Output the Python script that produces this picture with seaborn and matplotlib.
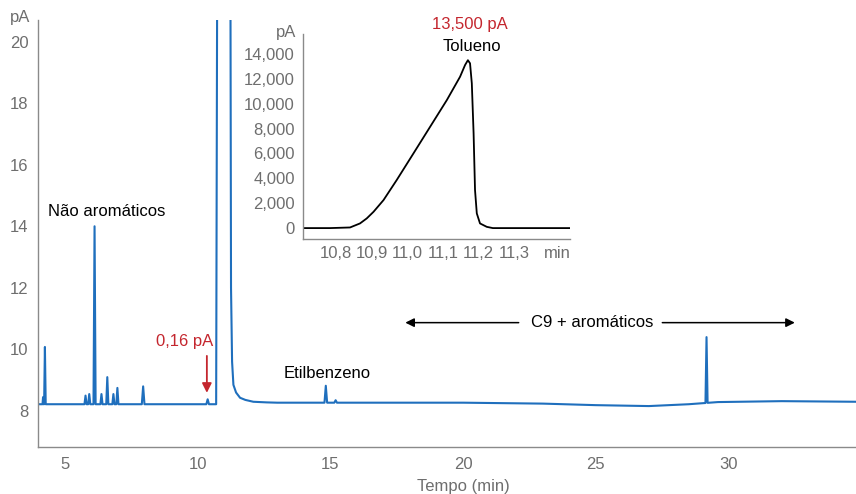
import numpy as np
import pandas as pd
import matplotlib
matplotlib.use("Agg")
import matplotlib.pyplot as plt
import seaborn as sns
from matplotlib.ticker import MultipleLocator, FuncFormatter, FixedLocator

# linija be piko (bazinė linija), min / pA
base_t = [4.0, 10.7, 11.3, 13.0, 16.0, 20.0, 23.0, 25.0, 27.0, 28.5, 29.6, 32.0, 34.8]
base_y = [8.22, 8.22, 8.27, 8.27, 8.27, 8.27, 8.24, 8.19, 8.16, 8.22, 8.29, 8.32, 8.30]

# maži pikai: laikas, viršūnė (pA), pusplotis (min)
peak_t = [4.18, 4.25, 5.78, 5.92, 6.12, 6.38, 6.60, 6.83, 6.98, 7.95, 10.38, 14.83, 15.20, 29.17]
peak_y = [8.45, 10.08, 8.50, 8.55, 14.0, 8.55, 9.10, 8.55, 8.75, 8.80, 8.38, 8.82, 8.35, 10.40]
peak_w = [0.02, 0.03, 0.04, 0.04, 0.04, 0.04, 0.04, 0.04, 0.04, 0.05, 0.05, 0.05, 0.05, 0.04]

# tolueno pikas (intarpas), min / pA
tol_t = [10.70, 10.783, 10.839, 10.867, 10.886, 10.905, 10.933, 10.970, 11.017, 11.064,
         11.111, 11.148, 11.162, 11.170, 11.176, 11.181, 11.186, 11.190, 11.195, 11.204,
         11.223, 11.24, 11.46]
tol_y = [0, 0, 50, 375, 780, 1310, 2250, 3860, 6000, 8150,
         10300, 12170, 13110, 13500, 13250, 11640, 7620, 3060, 1180, 375,
         100, 0, 0]

# tolueno uodega pagrindiniame grafike
tail_t = [11.22, 11.26, 11.30, 11.35, 11.45, 11.60, 11.80, 12.10, 12.60]
tail_y = [30.0, 12.0, 9.6, 8.85, 8.60, 8.43, 8.36, 8.30, 8.28]

BLUE = "#1f6fbd"
RED = "#c4262e"
GREY = "#6e6e6e"
SPINE = "#8a8a8a"
FS = 12

# sudedame pagrindinę chromatogramą
pts = []
for t, y in zip(base_t, base_y):
    inside = (10.75 < t < 12.7) or any(abs(t - p) < w for p, w in zip(peak_t, peak_w))
    if not inside:
        pts.append((t, y))
for p, h, w in zip(peak_t, peak_y, peak_w):
    pts.append((p - w, np.interp(p - w, base_t, base_y)))
    pts.append((p, h))
    pts.append((p + w, np.interp(p + w, base_t, base_y)))
for t, y in zip(tol_t, tol_y):
    if 10.79 <= t <= 11.205:
        pts.append((t, np.interp(t, base_t, base_y) + y))
for t, y in zip(tail_t, tail_y):
    pts.append((t, y))
main_df = pd.DataFrame(sorted(pts), columns=["t", "pA"])
inset_df = pd.DataFrame({"t": tol_t, "pA": tol_y})

sns.set_theme(style="white")
plt.rcParams["font.family"] = ["Liberation Sans", "DejaVu Sans"]
plt.rcParams["font.size"] = FS

fig = plt.figure(figsize=(8.56, 4.94), dpi=100)
ax = fig.add_axes([0.0444, 0.0951, 0.9556, 0.8644])

sns.lineplot(data=main_df, x="t", y="pA", ax=ax, color=BLUE, lw=1.5,
             estimator=None, sort=False)
ax.set_xlim(3.99, 34.8)
ax.set_ylim(6.83, 20.7)

for s in ["top", "right"]:
    ax.spines[s].set_visible(False)
for s in ["left", "bottom"]:
    ax.spines[s].set_color(SPINE)
    ax.spines[s].set_linewidth(1.0)

ax.xaxis.set_major_locator(FixedLocator([5, 10, 15, 20, 25, 30]))
ax.xaxis.set_minor_locator(MultipleLocator(1))
ax.yaxis.set_major_locator(FixedLocator([8, 10, 12, 14, 16, 18, 20]))
ax.yaxis.set_minor_locator(MultipleLocator(0.5))
ax.tick_params(axis="x", which="both", direction="in", color=SPINE, labelcolor=GREY,
               labelsize=FS, pad=7)
ax.tick_params(axis="x", which="major", length=5)
ax.tick_params(axis="x", which="minor", length=4)
ax.tick_params(axis="y", which="both", direction="out", color=SPINE, labelcolor=GREY,
               labelsize=FS, pad=3)
ax.tick_params(axis="y", which="major", length=4)
ax.tick_params(axis="y", which="minor", length=2.5)
ax.set_xlabel("Tempo (min)", color=GREY, fontsize=FS)
ax.xaxis.set_label_coords(0.52, -0.074)
ax.set_ylabel("")
ax.text(-0.009, 1.005, "pA", transform=ax.transAxes, ha="right", va="center",
        color=GREY, fontsize=FS)

# anotacijos
ax.text(4.38, 14.47, "Não aromáticos", ha="left", va="center", fontsize=FS, color="black")
ax.text(9.51, 10.27, "0,16 pA", ha="center", va="center", fontsize=FS, color=RED)
ax.annotate("", xy=(10.35, 8.5), xytext=(10.35, 9.88),
            arrowprops=dict(arrowstyle="-|>", color=RED, lw=1.3, mutation_scale=14))
ax.text(14.9, 9.23, "Etilbenzeno", ha="center", va="center", fontsize=FS, color="black")
ax.text(24.88, 10.87, "C9 + aromáticos", ha="center", va="center", fontsize=FS, color="black")
ax.annotate("", xy=(17.72, 10.87), xytext=(22.2, 10.87),
            arrowprops=dict(arrowstyle="-|>", color="black", lw=1.1, mutation_scale=13))
ax.annotate("", xy=(32.6, 10.87), xytext=(27.4, 10.87),
            arrowprops=dict(arrowstyle="-|>", color="black", lw=1.1, mutation_scale=13))

# intarpas su tolueno piku
ax2 = fig.add_axes([0.354, 0.516, 0.312, 0.415])
ax2.set_facecolor("none")
sns.lineplot(data=inset_df, x="t", y="pA", ax=ax2, color="black", lw=1.3,
             estimator=None, sort=False)
ax2.set_xlim(10.707, 11.457)
ax2.set_ylim(-885, 15600)
for s in ["top", "right"]:
    ax2.spines[s].set_visible(False)
for s in ["left", "bottom"]:
    ax2.spines[s].set_color(SPINE)
    ax2.spines[s].set_linewidth(1.0)
ins_ticks = [10.8, 10.9, 11.0, 11.1, 11.2, 11.3, 11.42]
ins_labels = ["10,8", "10,9", "11,0", "11,1", "11,2", "11,3", "min"]
ax2.set_xticks(ins_ticks)
ax2.set_xticklabels(ins_labels)
ax2.xaxis.set_minor_locator(MultipleLocator(0.02))
ax2.yaxis.set_major_locator(FixedLocator(list(range(0, 14001, 2000))))
ax2.yaxis.set_major_formatter(FuncFormatter(lambda v, p: f"{int(v):,}"))
ax2.tick_params(axis="x", which="both", direction="in", color=SPINE, labelcolor=GREY,
                labelsize=FS, pad=5, length=3)
ax2.tick_params(axis="y", which="both", length=0, labelcolor=GREY, labelsize=FS, pad=6)
ax2.set_xlabel("")
ax2.set_ylabel("")
ax2.text(-0.026, 1.01, "pA", transform=ax2.transAxes, ha="right", va="center",
         color=GREY, fontsize=FS)
ax2.text(11.182, 14640, "Tolueno", ha="center", va="center", fontsize=FS,
         color="black", clip_on=False)
ax2.text(11.175, 16410, "13,500 pA", ha="center", va="center", fontsize=FS,
         color=RED, clip_on=False)

fig.savefig("out.png", dpi=100)
